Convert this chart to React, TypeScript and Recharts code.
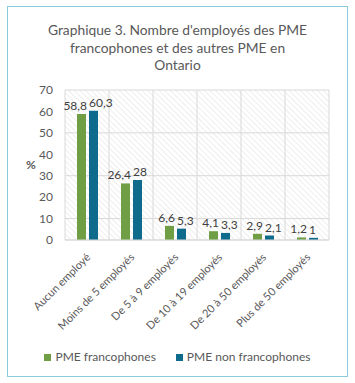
import React from 'react';
import {
  BarChart,
  Bar,
  XAxis,
  YAxis,
  CartesianGrid,
  Legend,
  LabelList,
} from 'recharts';

const categories = [
  'Aucun employé',
  'Moins de 5 employés',
  'De 5 à 9 employés',
  'De 10 à 19 employés',
  'De 20 à 50 employés',
  'Plus de 50 employés',
];
const francophones = [58.8, 26.4, 6.6, 4.1, 2.9, 1.2];
const nonFrancophones = [60.3, 28, 5.3, 3.3, 2.1, 1];
const yTicks = [0, 10, 20, 30, 40, 50, 60, 70];

const data = categories.map((name, i) => ({
  name,
  fr: francophones[i],
  nonFr: nonFrancophones[i],
}));

const FONT = 'Lato, "Open Sans", sans-serif';
const GREEN = '#6f9e45';
const BLUE = '#0e6b8c';
const TEXT = '#595959';

const fmt = (v: any) => String(v).replace('.', ',');

function XTick(props: any) {
  const { x, y, payload } = props;
  return (
    <text
      x={x + 4}
      y={y + 10}
      textAnchor="end"
      fontSize={11}
      fontFamily={FONT}
      fill={TEXT}
      transform={`rotate(-45, ${x + 4}, ${y + 10})`}
    >
      {payload.value}
    </text>
  );
}

// Excel pushes the two value labels apart so they don't collide
function makeLabel(side: 'left' | 'right') {
  return (props: any) => {
    const { x, y, width, value } = props;
    const tx = side === 'left' ? x + width + 1 : x;
    return (
      <text
        x={tx}
        y={y - 4}
        textAnchor={side === 'left' ? 'end' : 'start'}
        fontSize={12}
        fontFamily={FONT}
        fill="#404040"
      >
        {fmt(value)}
      </text>
    );
  };
}

export default function App() {
  return (
    <div style={{ position: 'absolute', left: 0, top: 0, width: 355, height: 383 }}>
      <div
        style={{
          position: 'absolute',
          left: 7,
          top: 6,
          width: 341,
          height: 371,
          border: '1.5px solid #8ccbdc',
          boxSizing: 'border-box',
        }}
      />
      <div
        style={{
          position: 'absolute',
          left: 0,
          top: 21,
          width: 355,
          textAlign: 'center',
          fontFamily: FONT,
          fontSize: 13.8,
          lineHeight: '17.5px',
          color: TEXT,
        }}
      >
        Graphique 3. Nombre d'employés des PME
        <br />
        francophones et des autres PME en
        <br />
        Ontario
      </div>
      <BarChart
        width={355}
        height={383}
        data={data}
        margin={{ top: 90, right: 26, left: 0, bottom: 0 }}
        barSize={9}
        barGap={3}
        style={{ position: 'absolute', left: 0, top: 0 }}
      >
        <defs>
          <pattern
            id="hatch"
            width="4"
            height="4"
            patternUnits="userSpaceOnUse"
            patternTransform="rotate(-45)"
          >
            <rect width="4" height="4" fill="#ffffff" />
            <line x1="0" y1="0" x2="0" y2="4" stroke="#e4e4e4" strokeWidth="1.2" />
          </pattern>
        </defs>
        <CartesianGrid
          stroke="#d9d9d9"
          fill="url(#hatch)"
          fillOpacity={1}
          verticalCoordinatesGenerator={({ offset }: any) =>
            categories
              .map((_, i) => offset.left + (i * offset.width) / categories.length)
              .concat(offset.left + offset.width)
          }
        />
        <XAxis
          dataKey="name"
          interval={0}
          tick={<XTick />}
          tickLine={false}
          axisLine={{ stroke: '#d9d9d9' }}
          height={143}
        />
        <YAxis
          domain={[0, 70]}
          ticks={yTicks}
          width={65}
          tickLine={false}
          axisLine={false}
          tickSize={0}
          tickMargin={12}
          tick={{ fontSize: 12, fontFamily: FONT, fill: TEXT }}
          label={{
            value: '%',
            position: 'insideLeft',
            offset: 26,
            fontSize: 12,
            fontWeight: 'bold',
            fontFamily: FONT,
            fill: TEXT,
          }}
        />
        <Legend
          verticalAlign="middle"
          align="center"
          iconType="square"
          iconSize={7}
          wrapperStyle={{ top: 349, left: 5, width: 355, fontFamily: FONT, fontSize: 12 }}
          formatter={(value: any, _entry: any, index: number) => (
            <span style={{ color: TEXT, marginRight: index === 0 ? 10 : 0 }}>{value}</span>
          )}
        />
        <Bar dataKey="fr" name="PME francophones" fill={GREEN} isAnimationActive={false}>
          <LabelList dataKey="fr" content={makeLabel('left')} />
        </Bar>
        <Bar dataKey="nonFr" name="PME non francophones" fill={BLUE} isAnimationActive={false}>
          <LabelList dataKey="nonFr" content={makeLabel('right')} />
        </Bar>
      </BarChart>
    </div>
  );
}
